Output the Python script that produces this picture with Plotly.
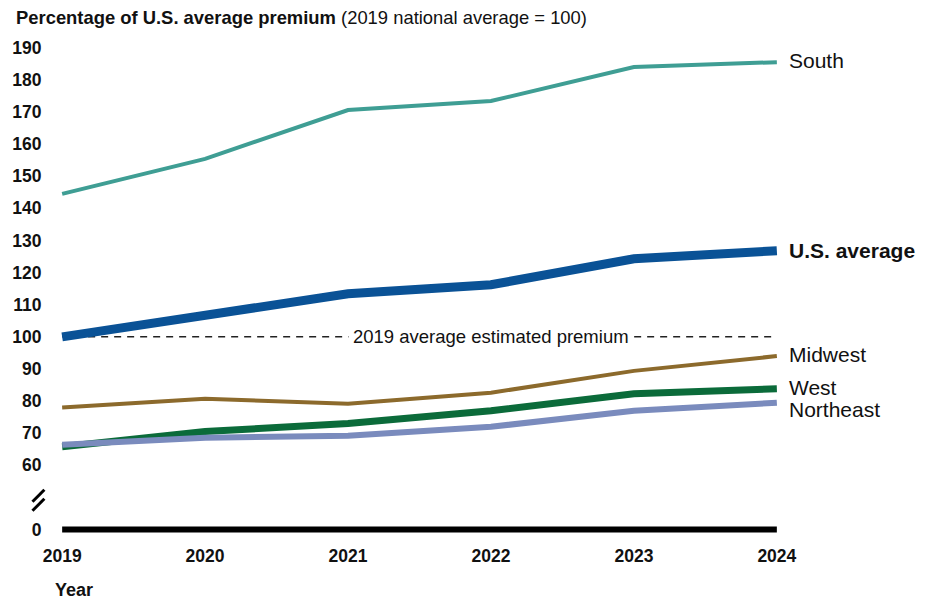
import plotly.graph_objects as go

years = [2019, 2020, 2021, 2022, 2023, 2024]
south = [144.5, 155.4, 170.6, 173.4, 184.0, 185.5]
us_avg = [100.0, 106.8, 113.4, 116.2, 124.3, 126.8]
midwest = [78.0, 80.7, 79.2, 82.6, 89.4, 94.0]
west = [65.8, 70.5, 73.0, 77.0, 82.3, 83.8]
northeast = [66.4, 68.6, 69.2, 72.0, 77.0, 79.5]

tick_vals = [40, 60, 70, 80, 90, 100, 110, 120, 130, 140, 150, 160, 170, 180, 190]
tick_text = ["0", "60", "70", "80", "90", "100", "110", "120", "130", "140", "150", "160", "170", "180", "190"]

FONT = "Liberation Sans, Arial, sans-serif"

series = [
    ("South", south, "#3f9e94", 4, False, 2),
    ("U.S. average", us_avg, "#0a5296", 9, True, 0),
    ("Midwest", midwest, "#8c6a2c", 4, False, 2),
    ("West", west, "#0b6b3a", 7, False, 1),
    ("Northeast", northeast, "#7a8bbd", 6, False, -7),
]

fig = go.Figure()
for name, vals, color, w, bold, ysh in series:
    fig.add_trace(go.Scatter(x=years, y=vals, mode="lines", name=name,
                             line=dict(color=color, width=w), showlegend=False,
                             hoverinfo="skip"))
    fig.add_annotation(x=years[-1], y=vals[-1], xref="x", yref="y",
                       text=("<b>%s</b>" % name) if bold else name,
                       showarrow=False, xanchor="left", yanchor="middle",
                       xshift=10, yshift=ysh,
                       font=dict(family=FONT, size=21, color="#111111"))

# baseline at the broken "0"
fig.add_shape(type="line", xref="x", yref="y", x0=years[0], x1=years[-1], y0=40, y1=40,
              line=dict(color="#000000", width=6), layer="below")
# 2019 average dashed reference line
fig.add_shape(type="line", xref="x", yref="y", x0=years[0], x1=years[-1], y0=100, y1=100,
              line=dict(color="#222222", width=1.5, dash="7px,6px"), layer="below")
fig.add_annotation(x=2022, y=100, xref="x", yref="y", text="2019 average estimated premium",
                   showarrow=False, bgcolor="white", borderpad=4,
                   font=dict(family=FONT, size=18.5, color="#111111"))

# axis break marks
for y0, y1 in [(502, 490), (511, 499)]:
    fig.add_shape(type="line", xref="paper", yref="paper",
                  x0=(27.3 - 50) / 734.4, x1=(39.3 - 50) / 734.4,
                  y0=(536.3 - y0) / 496.3, y1=(536.3 - y1) / 496.3,
                  line=dict(color="#000000", width=3))

fig.add_annotation(xref="paper", yref="paper", x=(9 - 50) / 734.4, y=(40 - 17) / 496.3 + 1,
                   xanchor="left", yanchor="middle", showarrow=False,
                   text="<b>Percentage of U.S. average premium</b> (2019 national average = 100)",
                   font=dict(family=FONT, size=18.4, color="#111111"))
fig.add_annotation(xref="paper", yref="paper", x=(48 - 50) / 734.4, y=-(590 - 536.3) / 496.3,
                   xanchor="left", yanchor="middle", showarrow=False,
                   text="<b>Year</b>", font=dict(family=FONT, size=18, color="#111111"))

fig.update_xaxes(range=[2018.95, 2024.05], tickvals=years, ticktext=[str(y) for y in years],
                 showgrid=False, zeroline=False, showline=False,
                 ticks="outside", ticklen=4, tickcolor="rgba(0,0,0,0)",
                 tickfont=dict(family=FONT, size=17.5, color="#111111", weight="bold"))
fig.update_yaxes(range=[38, 192.4], tickvals=tick_vals, ticktext=tick_text,
                 showgrid=False, zeroline=False, showline=False,
                 ticks="outside", ticklen=9, tickcolor="rgba(0,0,0,0)",
                 tickfont=dict(family=FONT, size=17.5, color="#111111", weight="bold"))

fig.update_layout(width=931, height=601, autosize=False,
                  margin=dict(l=50, r=146.6, t=40, b=64.7),
                  paper_bgcolor="white", plot_bgcolor="white",
                  font=dict(family=FONT))

fig.write_html("out.html")
